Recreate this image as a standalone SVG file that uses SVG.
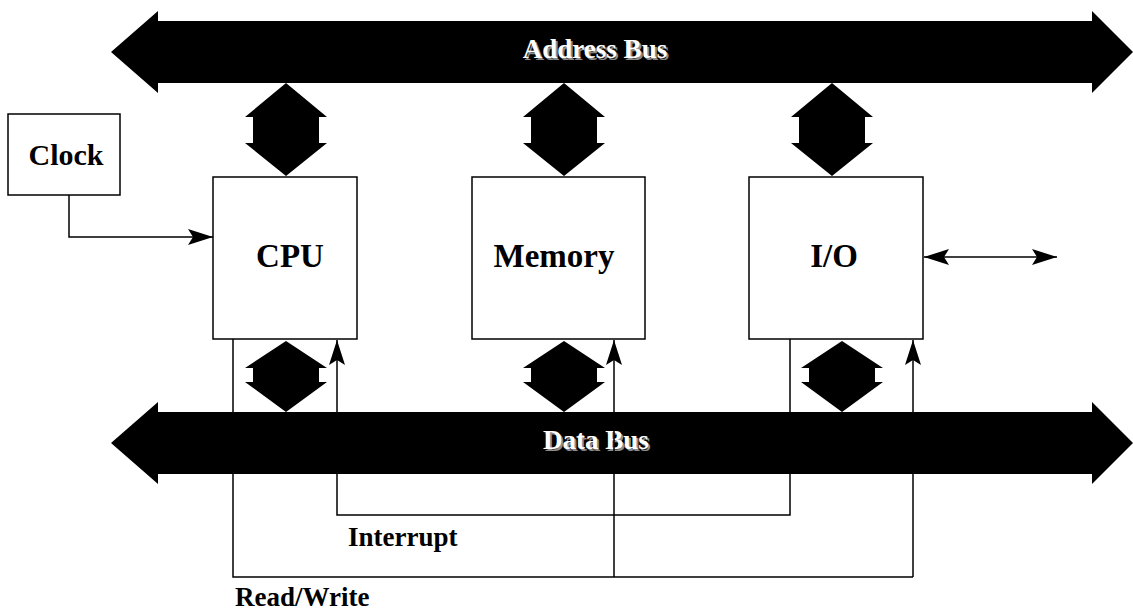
<svg xmlns="http://www.w3.org/2000/svg" width="1133" height="611" viewBox="0 0 1133 611">
<defs>
<style>
.box{fill:#fff;stroke:#000;stroke-width:1.5}
.bus{fill:#000}
.lbl{font-family:"Liberation Serif","Times New Roman",serif;font-weight:bold;fill:#000}
.big{font-size:33px}
.sm{font-size:27px}
.busl{font-family:"Liberation Serif","Times New Roman",serif;font-weight:bold;font-size:27px;text-anchor:middle}
.line{fill:none;stroke:#000;stroke-width:1.5}
</style>
<marker id="ah" markerUnits="userSpaceOnUse" markerWidth="30" markerHeight="20" viewBox="-26 -10 28 20" refX="0" refY="0" orient="auto-start-reverse">
<path d="M0,0 L-25,-8 L-20,0 L-25,8 Z" fill="#000"/>
</marker>
</defs>
<rect width="1133" height="611" fill="#fff"/>
<g id="address-bus">
<path class="bus" d="M111,52 L158,11 L158,21 L1092,21 L1092,11 L1133,52 L1092,93 L1092,83 L158,83 L158,93 Z"/>
<text class="busl" x="597" y="60" fill="#8a8a8a">Address Bus</text>
<text class="busl" x="595" y="58" fill="#fff">Address Bus</text>
</g>
<g id="data-bus">
<path class="bus" d="M111,443 L158,402 L158,412 L1092,412 L1092,402 L1133,443 L1092,484 L1092,474 L158,474 L158,484 Z"/>
<text class="busl" x="598" y="451" fill="#8a8a8a">Data Bus</text>
<text class="busl" x="596" y="449" fill="#fff">Data Bus</text>
</g>
<g id="bus-links" class="bus">
<path d="M286,83 L327,117 L319,117 L319,143 L327,143 L286,176 L245,143 L253,143 L253,117 L245,117 Z"/>
<path d="M564,83 L605,117 L597,117 L597,143 L605,143 L564,176 L523,143 L531,143 L531,117 L523,117 Z"/>
<path d="M832,83 L873,117 L865,117 L865,143 L873,143 L832,176 L791,143 L799,143 L799,117 L791,117 Z"/>
<path d="M286,341 L327,368 L319,368 L319,382 L327,382 L286,412 L245,382 L253,382 L253,368 L245,368 Z"/>
<path d="M564,341 L605,368 L597,368 L597,382 L605,382 L564,412 L523,382 L531,382 L531,368 L523,368 Z"/>
<path d="M842,341 L883,368 L875,368 L875,382 L883,382 L842,412 L801,382 L809,382 L809,368 L801,368 Z"/>
</g>
<g id="clock">
<rect class="box" x="8" y="114" width="112" height="81"/>
<text class="lbl" x="66" y="165" font-size="30" text-anchor="middle">Clock</text>
</g>
<g id="cpu">
<rect class="box" x="213" y="177" width="144" height="162"/>
<text class="lbl big" x="290" y="267" text-anchor="middle">CPU</text>
</g>
<g id="memory">
<rect class="box" x="472" y="177" width="173" height="162"/>
<text class="lbl big" x="554" y="267" text-anchor="middle">Memory</text>
</g>
<g id="io">
<rect class="box" x="749" y="177" width="174" height="162"/>
<text class="lbl big" x="834" y="267" text-anchor="middle">I/O</text>
</g>
<g id="connectors">
<path class="line" d="M69,195 L69,237 L213,237" marker-end="url(#ah)"/>
<path class="line" d="M924,257 L1057,257" marker-start="url(#ah)" marker-end="url(#ah)"/>
<path class="line" d="M233,339 L233,577 L913,577"/>
<path class="line" d="M614,577 L614,340" marker-end="url(#ah)"/>
<path class="line" d="M913,577 L913,340" marker-end="url(#ah)"/>
<path class="line" d="M790,339 L790,515 L337,515 L337,340" marker-end="url(#ah)"/>
</g>
<g id="labels">
<text class="lbl sm" x="348" y="546">Interrupt</text>
<text class="lbl sm" x="235" y="606">Read/Write</text>
</g>
</svg>
